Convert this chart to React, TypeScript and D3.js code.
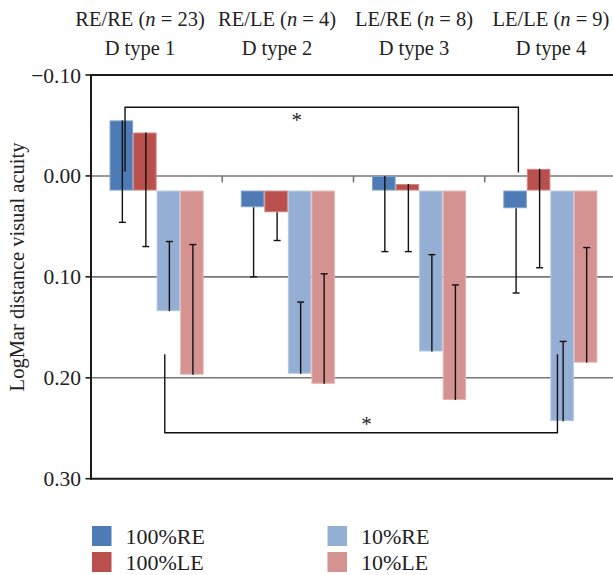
import React from "react";
import * as d3 from "d3";

const categories = ["D type 1", "D type 2", "D type 3", "D type 4"];
const groupLabels = ["RE/RE", "RE/LE", "LE/RE", "LE/LE"];
const groupN = [23, 4, 8, 9];
const seriesNames = ["100%RE", "100%LE", "10%RE", "10%LE"];
const re100 = [-0.055, 0.031, 0.0, 0.032];
const le100 = [-0.043, 0.036, 0.008, -0.007];
const re10 = [0.134, 0.196, 0.174, 0.243];
const le10 = [0.197, 0.206, 0.222, 0.185];
const re100Sd = [0.101, 0.069, 0.075, 0.084];
const le100Sd = [0.113, 0.028, 0.067, 0.098];
const re10Sd = [0.069, 0.071, 0.096, 0.079];
const le10Sd = [0.129, 0.109, 0.114, 0.114];
const errDirection = [1, 1, -1, -1];
const yTicks = [-0.1, 0.0, 0.1, 0.2, 0.3];
const gridTicks = [0.0, 0.1, 0.2];
const barBase = 0.0145;
// significance brackets: [cat, series] pairs and levels
const brackets = [
  { from: [0, 0], to: [3, 0], level: -0.068, endA: -0.0043, endB: -0.0033, dx: [3.7, 3.3], star: -0.0594, starDx: -25 },
  { from: [0, 2], to: [3, 2], level: 0.2544, endA: 0.1767, endB: 0.1767, dx: [-3.6, -4.7], star: 0.2419, starDx: 5.5 },
];

const seriesValues = [re100, le100, re10, le10];
const seriesSd = [re100Sd, le100Sd, re10Sd, le10Sd];
const colors = ["#4e7bb5", "#b9504d", "#94afd3", "#d49291"];
const strokes = ["#7d9fcc", "#d38583", "#b6c8e2", "#e6b6b5"];

const W = 613;
const H = 575;
const FONT = "'Liberation Serif', 'Times New Roman', serif";

export default function App() {
  const x0 = d3.scaleBand<string>().domain(categories).range([91, 616]).paddingInner(0).paddingOuter(0);
  const x1 = d3
    .scaleBand<string>()
    .domain(seriesNames)
    .range([0, x0.bandwidth()])
    .paddingInner(0)
    .paddingOuter(0.79);
  const y = d3.scaleLinear().domain([-0.1, 0.3]).range([75, 478.7]);
  const headX = d3.scalePoint<string>().domain(categories).range([140, 551]);

  const cx = (c: number, s: number) => (x0(categories[c]) as number) + (x1(seriesNames[s]) as number) + x1.bandwidth() / 2;

  return (
    <svg
      width={W}
      height={H}
      style={{ position: "absolute", left: 0, top: 0, display: "block", background: "#fff" }}
      fontFamily={FONT}
    >
      {/* headers */}
      {categories.map((c, i) => (
        <g key={c}>
          <text x={headX(c)} y={26} textAnchor="middle" fontSize={20.5} fill="#222">
            {groupLabels[i]} (<tspan fontStyle="italic">n</tspan> = {groupN[i]})
          </text>
          <text x={headX(c)} y={55} textAnchor="middle" fontSize={20.5} fill="#222">
            {c}
          </text>
        </g>
      ))}

      {/* gridlines */}
      {gridTicks.map((t) => (
        <line key={t} x1={91} x2={616} y1={y(t)} y2={y(t)} stroke="#777" strokeWidth={1.6} />
      ))}
      {/* category ticks on zero line */}
      {categories.slice(1).map((c) => (
        <line key={c} x1={x0(c)} x2={x0(c)} y1={y(0)} y2={y(0) + 6.5} stroke="#777" strokeWidth={1.6} />
      ))}

      {/* bars */}
      {seriesValues.map((vals, s) =>
        vals.map((v, c) => {
          const xb = (x0(categories[c]) as number) + (x1(seriesNames[s]) as number);
          const y1 = Math.min(y(v), y(barBase));
          const h = Math.abs(y(v) - y(barBase));
          return (
            <rect
              key={`${s}-${c}`}
              x={xb + 0.5}
              y={y1 + 0.5}
              width={x1.bandwidth() - 1}
              height={Math.max(h - 1, 0.5)}
              fill={colors[s]}
              stroke={strokes[s]}
              strokeWidth={1}
            />
          );
        })
      )}

      {/* error bars */}
      {seriesValues.map((vals, s) =>
        vals.map((v, c) => {
          const xc = cx(c, s) + 1;
          const end = v + errDirection[s] * seriesSd[s][c];
          return (
            <g key={`e${s}-${c}`} stroke="#111" strokeWidth={1.4}>
              <line x1={xc} x2={xc} y1={y(v)} y2={y(end)} />
              <line x1={xc - 3.5} x2={xc + 3.5} y1={y(end)} y2={y(end)} />
            </g>
          );
        })
      )}

      {/* brackets */}
      {brackets.map((b, i) => {
        const xa = cx(b.from[0], b.from[1]) + b.dx[0];
        const xb = cx(b.to[0], b.to[1]) + b.dx[1];
        return (
          <g key={i}>
            <path
              d={`M${xa},${y(b.endA)}V${y(b.level)}H${xb}V${y(b.endB)}`}
              fill="none"
              stroke="#111"
              strokeWidth={1.4}
            />
            <text x={(xa + xb) / 2 + b.starDx} y={y(b.star) + 11} textAnchor="middle" fontSize={21} fill="#222">
              *
            </text>
          </g>
        );
      })}

      {/* axes frame */}
      <line x1={91} x2={616} y1={y(-0.1)} y2={y(-0.1)} stroke="#1a1a1a" strokeWidth={2} />
      <line x1={91} x2={616} y1={y(0.3)} y2={y(0.3)} stroke="#1a1a1a" strokeWidth={2} />
      <line x1={91} x2={91} y1={y(-0.1) - 1} y2={y(0.3) + 1} stroke="#1a1a1a" strokeWidth={2} />
      {yTicks.map((t) => (
        <g key={t}>
          <line x1={85.5} x2={91} y1={y(t)} y2={y(t)} stroke="#1a1a1a" strokeWidth={1.6} />
          <text x={81} y={y(t)} dy="0.35em" textAnchor="end" fontSize={21.5} fill="#222">
            {t < 0 ? "\u2212" + Math.abs(t).toFixed(2) : t.toFixed(2)}
          </text>
        </g>
      ))}

      <text
        transform={`translate(24,267) rotate(-90)`}
        textAnchor="middle"
        fontSize={20.5}
        fill="#222"
      >
        LogMar distance visual acuity
      </text>

      {/* legend */}
      {seriesNames.map((n, i) => {
        const col = i < 2 ? 0 : 1;
        const row = i % 2;
        const lx = col === 0 ? 92 : 327.5;
        const ly = 526 + row * 26;
        return (
          <g key={n}>
            <rect x={lx} y={ly} width={19.5} height={20} fill={colors[i]} />
            <text x={lx + 33.5} y={ly + 17.5} fontSize={22} fill="#222">
              {n}
            </text>
          </g>
        );
      })}
    </svg>
  );
}
